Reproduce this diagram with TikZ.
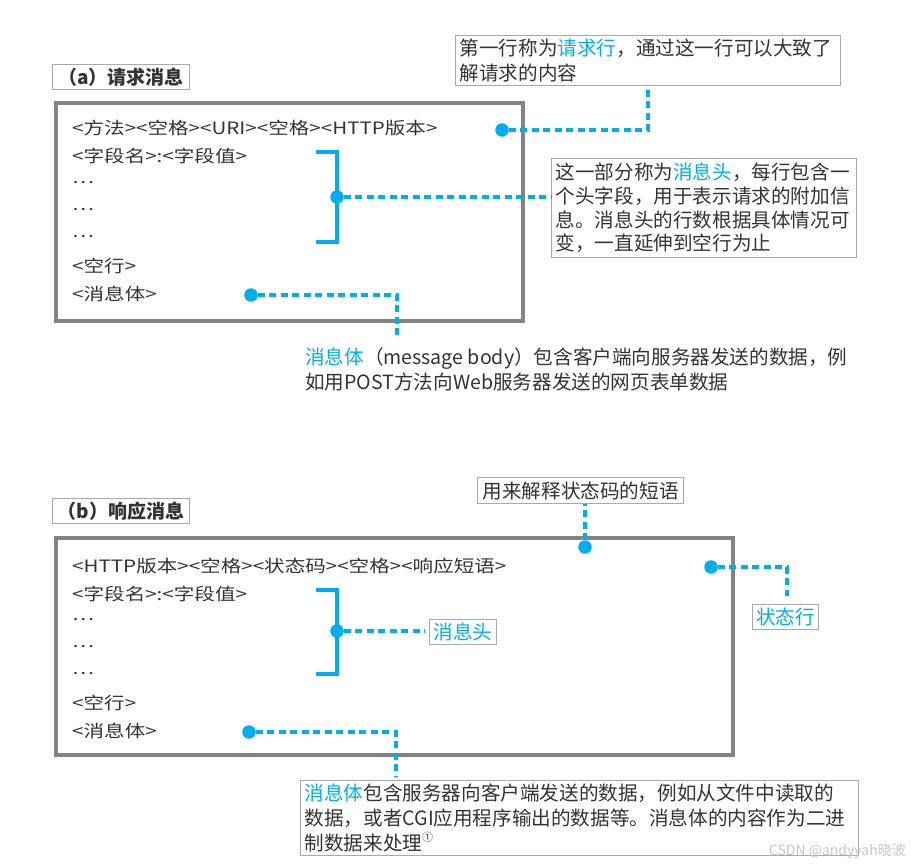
\documentclass[tikz,border=0pt]{standalone}
\usepackage{fontspec}
\setmainfont{Noto Sans CJK SC}
\newfontfamily\widecjk[FakeStretch=1.21]{Noto Sans CJK SC}
\definecolor{hblue}{HTML}{00AEEF}
\definecolor{boxgray}{HTML}{828386}
\definecolor{lgray}{HTML}{A7A9AC}
\definecolor{txt}{HTML}{333333}
\begin{document}
\begin{tikzpicture}[x=1pt,y=-1pt,
  mline/.style={anchor=west, inner sep=0pt, font=\widecjk\fontsize{17}{20}\selectfont, text=txt},
  callout/.style={draw=lgray, line width=1.2pt, anchor=north west, inner xsep=4pt, inner ysep=0pt, align=left, text=txt},
  cfont/.style={font=\fontsize{19.6}{25}\selectfont},
  tagbox/.style={draw=lgray, line width=1.2pt, anchor=north west, inner sep=0pt, text=hblue, font=\fontsize{19.6}{22}\selectfont},
  labelbox/.style={draw=lgray, line width=1.2pt, anchor=north west, inner sep=0pt, minimum width=137pt, minimum height=25pt, text=txt, font=\bfseries\fontsize{19}{22}\selectfont},
  frame/.style={draw=boxgray, line width=4pt, anchor=north west, inner sep=0pt},
  brace/.style={draw=hblue, line width=3.5pt},
  leader/.style={draw=hblue, line width=3.5pt, dash pattern=on 7pt off 4.5pt},
  dot/.style={circle, fill=hblue, inner sep=0pt, minimum size=13.5pt}
]
\useasboundingbox (0,0) rectangle (911,867);

% ---------- (a) request ----------
\node[labelbox] (labA) at (52,64) {（a）请求消息};
\node[frame, minimum width=467pt, minimum height=218pt] (boxA) at (54,101) {};

\node[mline] (a1) at (72,128) {<方法><空格><URI><空格><HTTP版本>};
\node[mline] (a2) at (72,156) {<字段名>:<字段值>};
\node[mline] (a3) at (72,183) {…};
\node[mline] (a4) at (72,210) {…};
\node[mline] (a5) at (72,237) {…};
\node[mline] (a6) at (72,266) {<空行>};
\node[mline] (a7) at (72,294) {<消息体>};

\draw[brace] (316,152) -| (337,242) -- (316,242);

\node[callout, cfont, text width=377pt, minimum height=50pt] (cA1) at (455,35)
  {第一行称为\textcolor{hblue}{请求行}，通过这一行可以大致了\\解请求的内容};
\node[callout, font=\fontsize{19.6}{23.7}\selectfont, text width=297pt, minimum height=99pt] (cA2) at (551,158)
  {这一部分称为\textcolor{hblue}{消息头}，每行包含一\\个头字段，用于表示请求的附加信\\息。消息头的行数根据具体情况可\\变，一直延伸到空行为止};
\node[anchor=north west, inner sep=0pt, align=left, text=txt, cfont] (tA3) at (305,348)
  {\textcolor{hblue}{消息体}（message body）包含客户端向服务器发送的数据，例\\如用POST方法向Web服务器发送的网页表单数据};

\node[dot] (dA1) at (502,130) {};
\node[dot] (dA2) at (337,197) {};
\node[dot] (dA3) at (251,295) {};
\coordinate (eA3) at (397,338);

\draw[leader] (dA1) -| (cA1.south);
\draw[leader] (dA2) -- (dA2 -| cA2.west);
\draw[leader] (dA3) -| (eA3);

% ---------- (b) response ----------
\node[labelbox] (labB) at (52,498) {（b）响应消息};
\node[frame, minimum width=677pt, minimum height=217pt] (boxB) at (54,536) {};

\node[mline] (b1) at (72,566) {<HTTP版本><空格><状态码><空格><响应短语>};
\node[mline] (b2) at (72,594) {<字段名>:<字段值>};
\node[mline] (b3) at (72,620) {…};
\node[mline] (b4) at (72,647) {…};
\node[mline] (b5) at (72,674) {…};
\node[mline] (b6) at (72,703) {<空行>};
\node[mline] (b7) at (72,731) {<消息体>};

\draw[brace] (316,590) -| (337,674) -- (316,674);

\node[tagbox, minimum width=206pt, minimum height=26pt, text=txt] (cB1) at (477,477) {用来解释状态码的短语};
\node[tagbox, minimum width=66pt, minimum height=25pt] (cB2) at (752,604) {状态行};
\node[tagbox, minimum width=67pt, minimum height=25pt] (cB3) at (429,619) {消息头};
\node[callout, cfont, text width=550pt, minimum height=75pt] (cB4) at (300,780)
  {\textcolor{hblue}{消息体}包含服务器向客户端发送的数据，例如从文件中读取的\\数据，或者CGI应用程序输出的数据等。消息体的内容作为二进\\制数据来处理\raisebox{0.45em}{\fontsize{11}{12}\selectfont ①}};

\node[dot] (dB1) at (585,547) {};
\node[dot] (dB2) at (711,567) {};
\node[dot] (dB3) at (337,631) {};
\node[dot] (dB4) at (249,732) {};
\coordinate (eB2) at (787,596);
\coordinate (eB4) at (396,776);

\draw[leader] (dB1) -- (dB1 |- cB1.south);
\draw[leader] (dB2) -| (eB2);
\draw[leader, shorten >=4pt] (dB3) -- (dB3 -| cB3.west);
\draw[leader] (dB4) -| (eB4);

\node[anchor=east, inner sep=0pt, text=black!22, font=\fontsize{14}{16}\selectfont] (wm) at (906,851) {CSDN @andyyah晓波};
\end{tikzpicture}
\end{document}
